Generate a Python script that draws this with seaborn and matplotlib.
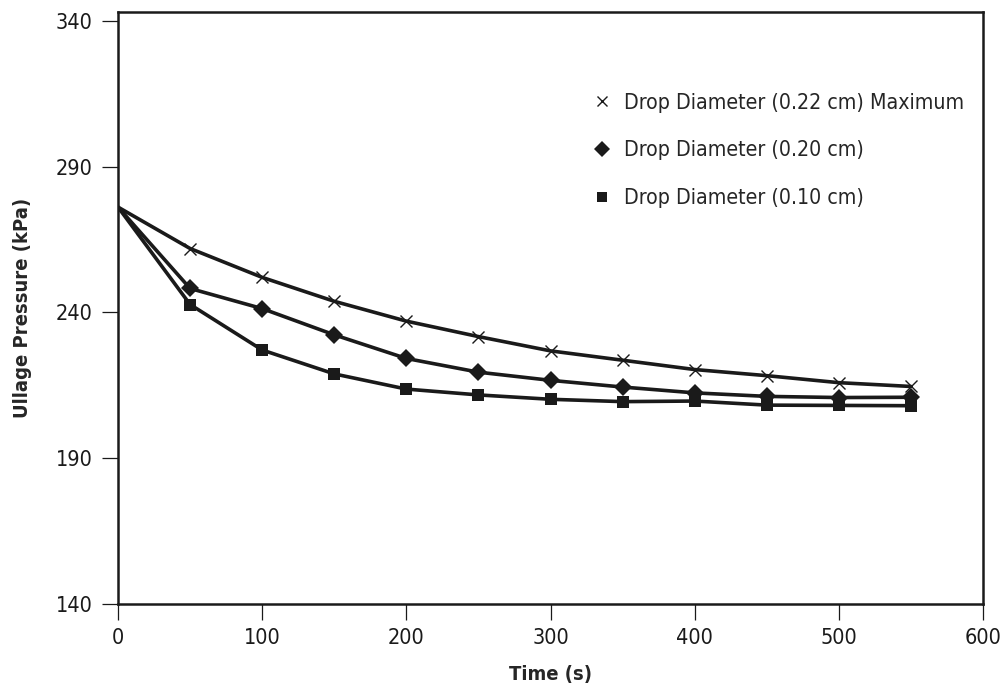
import numpy as np
import pandas as pd
import matplotlib
matplotlib.use("Agg")
import matplotlib.pyplot as plt
from matplotlib.lines import Line2D
import seaborn as sns

time_s = [0, 50, 100, 150, 200, 250, 300, 350, 400, 450, 500, 550]
d022 = [276.1, 261.9, 252.0, 243.8, 237.0, 231.7, 226.8, 223.6, 220.4, 218.3, 215.9, 214.6]
d020 = [276.1, 248.2, 241.3, 232.3, 224.2, 219.5, 216.7, 214.4, 212.4, 211.2, 210.8, 210.9]
d010 = [276.1, 242.7, 227.1, 218.9, 213.7, 211.7, 210.2, 209.4, 209.6, 208.2, 208.1, 208.0]
labels = ["Drop Diameter (0.22 cm) Maximum", "Drop Diameter (0.20 cm)", "Drop Diameter (0.10 cm)"]

df = pd.concat([
    pd.DataFrame({"Time": time_s, "Pressure": vals, "Series": lab})
    for vals, lab in zip([d022, d020, d010], labels)
], ignore_index=True)

sns.set_style("white")
plt.rcParams["font.family"] = ["DejaVu Sans"]
plt.rcParams["font.stretch"] = "condensed"

fig = plt.figure(figsize=(10.02, 6.87), dpi=100)
ax = fig.add_axes([0.1178, 0.1208, 0.8633, 0.8617])

sns.lineplot(data=df, x="Time", y="Pressure", units="Series", estimator=None,
             color="#1a1a1a", linewidth=2.6, ax=ax, legend=False, sort=False)

markers = {labels[0]: "x", labels[1]: "D", labels[2]: "s"}
sizes = {labels[0]: 8.5, labels[1]: 9.5, labels[2]: 8.5}
mdf = df[df["Time"] > 0]
for lab in labels:
    sub = mdf[mdf["Series"] == lab]
    if markers[lab] == "x":
        ax.plot(sub["Time"], sub["Pressure"], linestyle="none", marker="x",
                markersize=sizes[lab], markeredgewidth=1.0, color="#1a1a1a", zorder=3)
    else:
        ax.plot(sub["Time"], sub["Pressure"], linestyle="none", marker=markers[lab],
                markersize=sizes[lab], markeredgewidth=0, color="#1a1a1a", zorder=3)

ax.set_xlim(0, 600)
ax.set_ylim(140, 343)
ax.set_xticks([0, 100, 200, 300, 400, 500, 600])
ax.set_yticks([140, 190, 240, 290, 340])
ax.tick_params(axis="both", direction="out", length=11.5, width=0.9, labelsize=15.5,
               colors="#1a1a1a", bottom=True, left=True)
ax.tick_params(axis="x", pad=6)
ax.tick_params(axis="y", pad=7)
for s in ax.spines.values():
    s.set_linewidth(1.8)
    s.set_color("#1a1a1a")

ax.set_xlabel("Time (s)", fontsize=14.5, fontweight="bold", labelpad=12)
ax.set_ylabel("Ullage Pressure (kPa)", fontsize=14.5, fontweight="bold", labelpad=17)

handles = [
    Line2D([], [], linestyle="none", marker="x", markersize=7, markeredgewidth=1.0, color="#1a1a1a"),
    Line2D([], [], linestyle="none", marker="D", markersize=8, markeredgewidth=0, color="#1a1a1a"),
    Line2D([], [], linestyle="none", marker="s", markersize=7, markeredgewidth=0, color="#1a1a1a"),
]
ax.legend(handles, labels, loc="upper left", bbox_to_anchor=(0.523, 0.896), frameon=False,
          fontsize=15.3, labelspacing=1.3, handletextpad=0.4, handlelength=1.2)

fig.savefig("out.png", dpi=100)
